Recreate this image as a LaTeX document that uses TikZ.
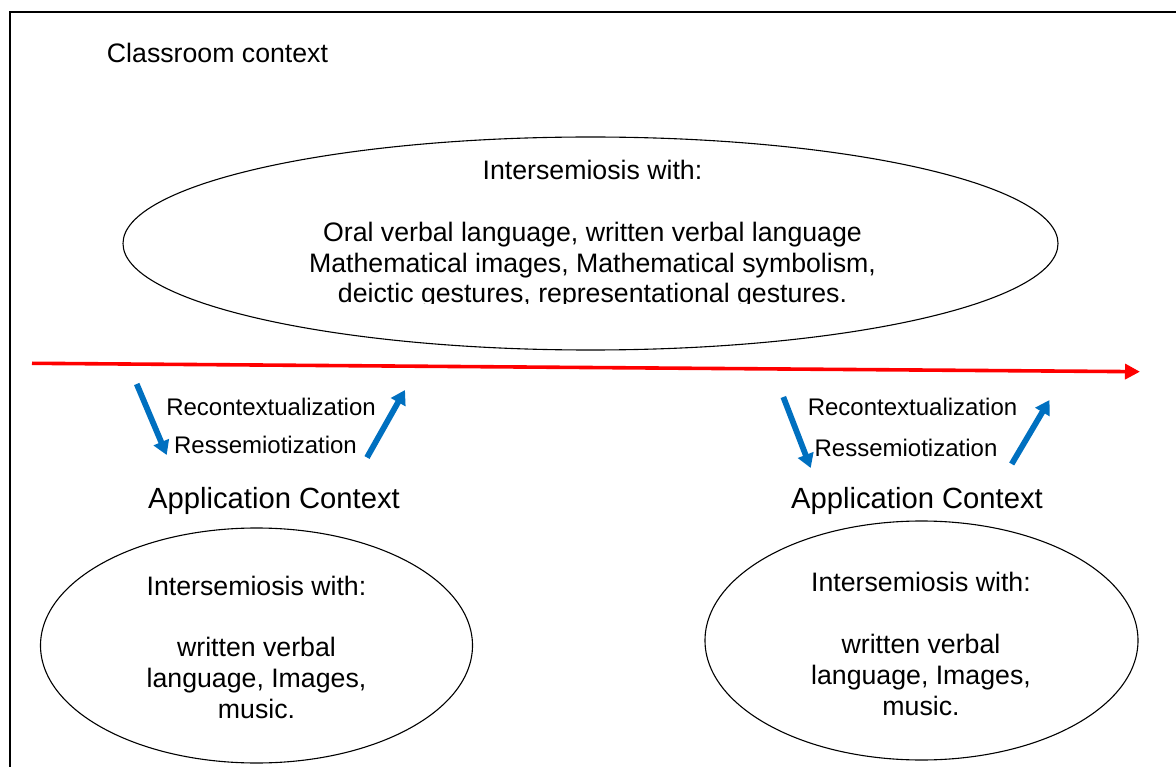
\documentclass[tikz,border=0pt]{standalone}
\usepackage{fontspec}
\setmainfont{Liberation Sans}
\usetikzlibrary{arrows.meta,shapes.geometric}
\definecolor{flowblue}{RGB}{0,112,192}
\definecolor{timered}{RGB}{255,0,0}
\tikzset{
  frameline/.style={line width=2pt, black},
  ctxellipse/.style={draw, ellipse, line width=1.1pt, inner sep=0pt},
  bodytext/.style={font=\fontsize{26.7pt}{30.8pt}\selectfont, align=center, inner sep=0pt, anchor=base},
  headtext/.style={font=\fontsize{26.7pt}{30.5pt}\selectfont, inner sep=0pt, anchor=base},
  apptext/.style={font=\fontsize{29.2pt}{32pt}\selectfont, inner sep=0pt, anchor=base},
  proctext/.style={font=\fontsize{24pt}{28pt}\selectfont, inner sep=0pt, anchor=base},
  timeline/.style={timered, line width=3.6pt, -{Triangle[length=15pt,width=15pt]}},
  flowarrow/.style={flowblue, line width=5.8pt, -{Triangle[length=14pt,width=16pt]}},
}
\begin{document}
\begin{tikzpicture}[x=1pt,y=-1pt]
\clip (0,0) rectangle (1176,767);
\fill[white] (0,0) rectangle (1176,767);
\draw[frameline] (9.5,790) -- (9.5,12.5) -- (1200,12.5);

\node[headtext] (classroom) at (217.5,62.5) {Classroom context};

% big ellipse
\node[ctxellipse, minimum width=935pt, minimum height=213pt] (bigell) at (590.5,243.5) {};
\begin{scope}
  \clip (0,0) rectangle (1176,303.5);
  \node[bodytext] (bigtext) at (592.5,303) {Intersemiosis with:\\[30.8pt]Oral verbal language, written verbal language\\Mathematical images, Mathematical symbolism,\\deictic gestures, representational gestures.};
\end{scope}

% timeline
\coordinate (tstart) at (32,363.3);
\coordinate (tend) at (1140,371.7);
\draw[timeline] (tstart) -- (tend);

% left process arrows and labels
\coordinate (ld1) at (136.7,384);
\coordinate (ld2) at (166.7,455);
\coordinate (lu1) at (367,457.5);
\coordinate (lu2) at (405,390);
\draw[flowarrow] (ld1) -- (ld2);
\draw[flowarrow] (lu1) -- (lu2);
\node[proctext] (lrecon) at (271,416) {Recontextualization};
\node[proctext] (lresem) at (265.5,453) {Ressemiotization};

% right process arrows and labels
\coordinate (rd1) at (783.3,397);
\coordinate (rd2) at (810.7,468);
\coordinate (ru1) at (1011.7,464);
\coordinate (ru2) at (1049.5,400);
\draw[flowarrow] (rd1) -- (rd2);
\draw[flowarrow] (ru1) -- (ru2);
\node[proctext] (rrecon) at (912.5,416) {Recontextualization};
\node[proctext] (rresem) at (906,456) {Ressemiotization};

% application contexts
\node[apptext] (lapp) at (274,508) {Application Context};
\node[apptext] (rapp) at (917,508) {Application Context};

% lower ellipses
\node[ctxellipse, minimum width=432pt, minimum height=235pt] (lell) at (256.5,645.5) {};
\node[ctxellipse, minimum width=433pt, minimum height=239pt] (rell) at (921.5,640.5) {};
\begin{scope}
  \clip (0,0) rectangle (600,719);
  \node[bodytext] (ltext) at (256.5,718.5) {Intersemiosis with:\\[30.8pt]written verbal\\language, Images,\\music.};
\end{scope}
\begin{scope}
  \clip (600,0) rectangle (1176,715.5);
  \node[bodytext] (rtext) at (921,715) {Intersemiosis with:\\[30.8pt]written verbal\\language, Images,\\music.};
\end{scope}
\end{tikzpicture}
\end{document}
